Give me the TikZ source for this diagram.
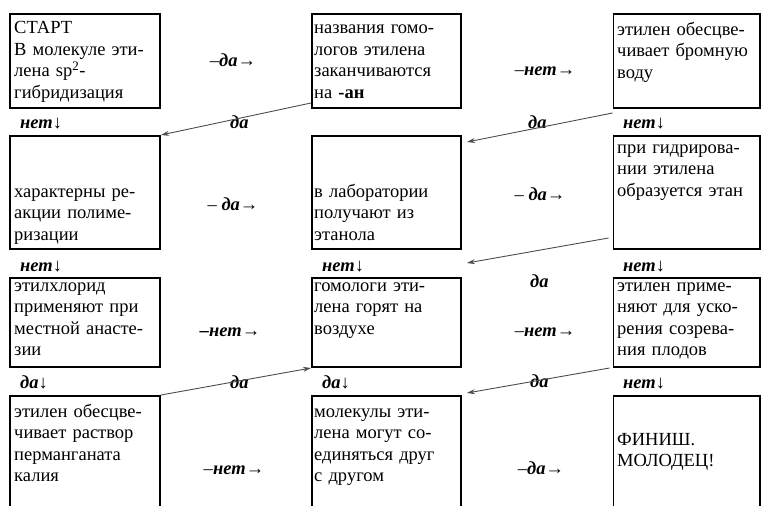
\documentclass[tikz,border=0pt]{standalone}
\usepackage{fontspec}
\setmainfont{Liberation Serif}
\usetikzlibrary{arrows.meta,positioning}

\newcommand{\yesword}{\textbf{\textit{да}}}
\newcommand{\noword}{\textbf{\textit{нет}}}

\tikzset{
  qbox/.style={draw, line width=1.8pt, anchor=north west, inner sep=0pt},
  qtext/.style={anchor=base west, text width=150pt, align=left, inner sep=0pt,
                font=\fontsize{18.5}{21.6}\selectfont},
  ans/.style={anchor=base, inner sep=0pt, font=\fontsize{18.5}{21.6}\selectfont},
  down/.style={anchor=base west, inner sep=0pt, font=\fontsize{18.5}{21.6}\selectfont},
  link/.style={draw=black!70, line width=0.9pt, -{Stealth[length=8pt,width=5pt]}},
}

\begin{document}
\begin{tikzpicture}[x=1pt, y=-1pt]
    \useasboundingbox (0,0) rectangle (761,506);
    \clip (0,0) rectangle (761,506);

    % Boxes
    \node[qbox, minimum width=150.2pt, minimum height=94.5pt] (r1c1) at (9,12.7) {};
    \node[qbox, minimum width=149.2pt, minimum height=94.5pt] (r1c2) at (311,12.7) {};
    \node[qbox, minimum width=146.2pt, minimum height=94.5pt] (r1c3) at (612.5,12.7) {};
    \node[qbox, minimum width=150.2pt, minimum height=113.2pt] (r2c1) at (9,135) {};
    \node[qbox, minimum width=149.2pt, minimum height=113.2pt] (r2c2) at (311,135) {};
    \node[qbox, minimum width=146.2pt, minimum height=113.2pt] (r2c3) at (612.5,135) {};
    \node[qbox, minimum width=150.2pt, minimum height=89.2pt] (r3c1) at (9,277) {};
    \node[qbox, minimum width=149.2pt, minimum height=89.2pt] (r3c2) at (311,277) {};
    \node[qbox, minimum width=146.2pt, minimum height=89.2pt] (r3c3) at (612.5,277) {};
    \node[qbox, minimum width=150.2pt, minimum height=140pt] (r4c1) at (9,395) {};
    \node[qbox, minimum width=149.2pt, minimum height=140pt] (r4c2) at (311,395) {};
    \node[qbox, minimum width=146.2pt, minimum height=140pt] (r4c3) at (612.5,395) {};

    % Questions
    \node[qtext] (q11) at (14,33.5) {СТАРТ\\В молекуле эти-\\лена sp\textsuperscript{2}-\\гибридизация};
    \node[qtext] (q12) at (314,33.5) {названия гомо-\\логов этилена\\заканчиваются\\на \textbf{-ан}};
    \node[qtext] (q13) at (617,35) {этилен обесцве-\\чивает бромную\\воду};
    \node[qtext] (q21) at (14,197) {характерны ре-\\акции полиме-\\ризации};
    \node[qtext] (q22) at (314,197) {в лаборатории\\получают из\\этанола};
    \node[qtext] (q23) at (617,153) {при гидрирова-\\нии этилена\\образуется этан};
    \node[qtext] (q31) at (14,291) {этилхлорид\\применяют при\\местной анасте-\\зии};
    \node[qtext] (q32) at (314,291) {гомологи эти-\\лена горят на\\воздухе};
    \node[qtext] (q33) at (617,291) {этилен приме-\\няют для уско-\\рения созрева-\\ния плодов};
    \node[qtext] (q41) at (14,417) {этилен обесцве-\\чивает раствор\\перманганата\\калия};
    \node[qtext] (q42) at (314,417) {молекулы эти-\\лена могут со-\\единяться друг\\с другом};
    \node[qtext] (q43) at (617,445) {ФИНИШ.\\МОЛОДЕЦ!};

    % Answers to the right
    \node[ans] (a11) at (233,66) {–\yesword→};
    \node[ans] (a12) at (545,75) {–\noword→};
    \node[ans] (a21) at (233,210) {– \yesword→};
    \node[ans] (a22) at (540,200) {– \yesword→};
    \node[ans] (a31) at (230,336) {\textbf{–}\noword→};
    \node[ans] (a32) at (545,336) {–\noword→};
    \node[ans] (a41) at (234,474) {–\noword→};
    \node[ans] (a42) at (541,474) {–\yesword→};

    % Answers downwards
    \foreach \n/\x/\y/\t in {b11/20/128/\noword, b13/623/128/\noword,
                             b21/20/271/\noword, b22/322/271/\noword, b23/623/271/\noword,
                             b31/20/388/\yesword, b32/322/388/\yesword, b33/623/388/\noword} {
        \node[down] (\n) at (\x,\y) {\t↓};
    }

    % Answers back to the left
    \foreach \n/\x/\y in {c1/230/128, c2/528/128, c3/530/287, c4/230/388, c5/530/387} {
        \node[down] (\n) at (\x,\y) {\yesword};
    }

    % Connectors
    \draw[link] ([yshift=6pt]r1c2.south west) -- (r2c1.north east);
    \draw[link] ([yshift=-4pt]r1c3.south west) -- ([xshift=5pt,yshift=-7pt]r2c2.north east);
    \draw[link] ([xshift=-4pt,yshift=12pt]r2c3.south west) -- ([xshift=5pt,yshift=14pt]r3c2.north east);
    \draw[link] (r4c1.north east) -- (r3c2.south west);
    \draw[link] ([xshift=-3pt]r3c3.south west) -- ([xshift=5pt,yshift=2pt]r4c2.north east);
\end{tikzpicture}
\end{document}
